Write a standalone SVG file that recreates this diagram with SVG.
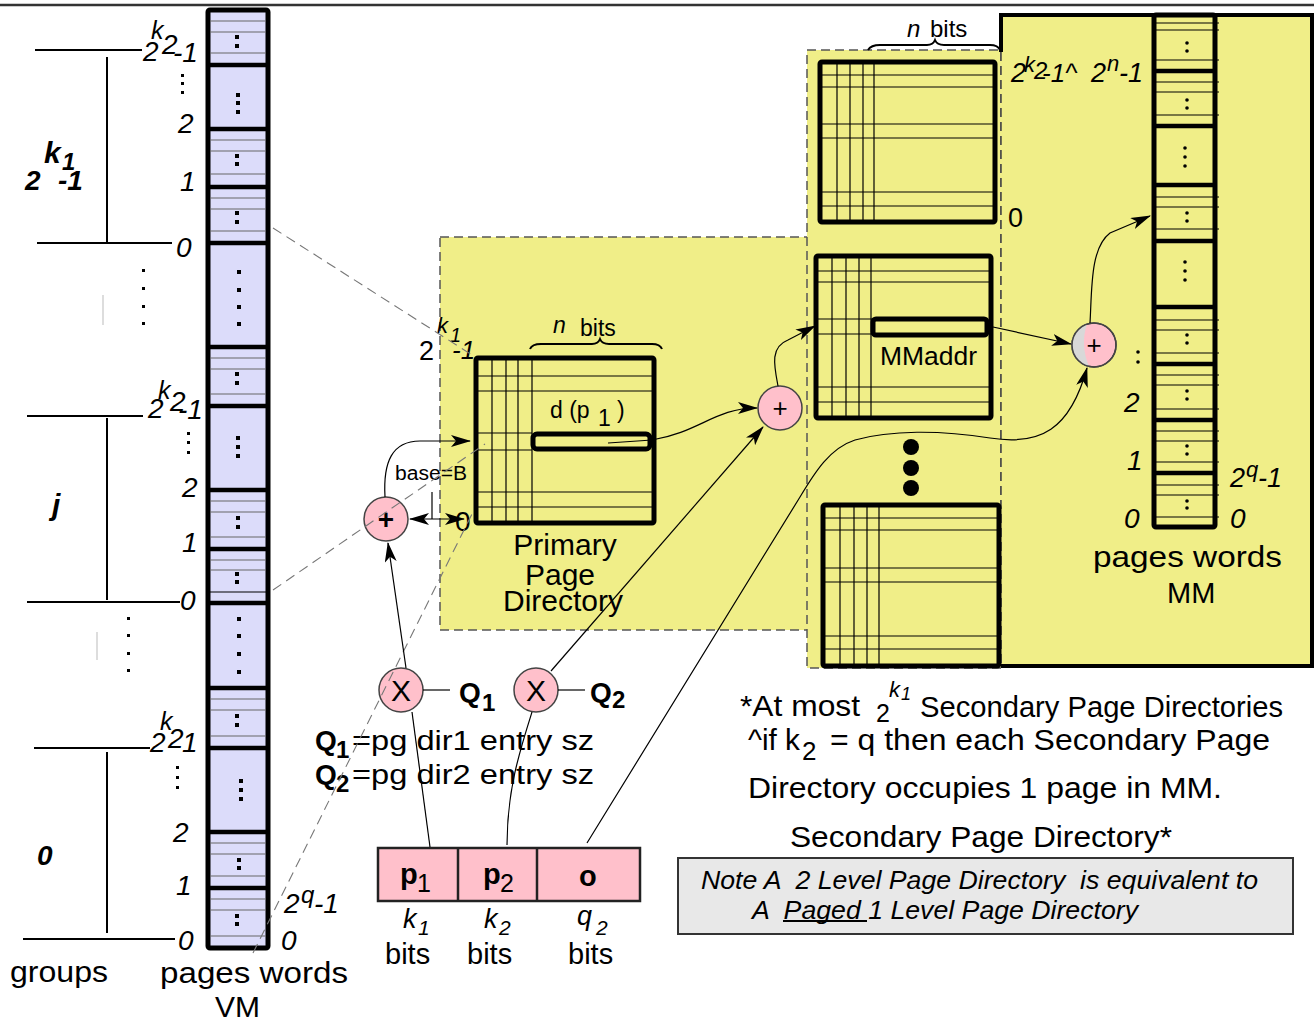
<svg xmlns="http://www.w3.org/2000/svg" width="1314" height="1024" viewBox="0 0 1314 1024">
<defs>
<marker id="ah" viewBox="0 0 20 12" refX="19" refY="6" markerWidth="20" markerHeight="12" markerUnits="userSpaceOnUse" orient="auto-start-reverse"><path d="M0,0 L20,6 L0,12 L5,6 z" fill="#000"/></marker>
</defs>
<style>
text{font-family:"Liberation Sans",Arial,sans-serif;fill:#000}
.it{font-style:italic}
.b{font-weight:bold}
.thk{stroke:#000;stroke-width:4.5}
.thn{stroke:#666;stroke-width:1.2}
.tl{stroke:#000;stroke-width:1.2}
.box{fill:none;stroke:#000;stroke-width:5}
.yel{fill:#f0ee88;stroke:#555;stroke-width:1.5;stroke-dasharray:9 5}
.dot{fill:#000}
.circ{fill:#ffc0cb;stroke:#444;stroke-width:1.5}
.con{fill:none;stroke:#000;stroke-width:1.2}
.dsh{fill:none;stroke:#777;stroke-width:1.1;stroke-dasharray:10 6}
.grp{stroke:#000;stroke-width:2}
.lbl{font-size:28px;font-style:italic}
</style>
<rect width="1314" height="1024" fill="#fff"/>
<line x1="0" y1="5" x2="1314" y2="5" stroke="#333" stroke-width="2.5"/>

<!-- Regions -->
<g id="ppd-region"><rect class="yel" x="440" y="237" width="368" height="393"/></g>
<g id="spd-region"><rect class="yel" x="807" y="50" width="194" height="618"/></g>
<g id="mm-region">
<rect x="1001" y="15" width="311" height="651" fill="#f0ee88"/>
<path d="M1001 52 L1001 15 L1312 15 L1312 666 L1001 666" fill="none" stroke="#000" stroke-width="4"/>
<line x1="1001" y1="52" x2="1001" y2="666" stroke="#444" stroke-width="1.5" stroke-dasharray="9 5"/>
</g>

<!-- Groups (left) -->
<g id="groups">
<line class="grp" x1="35" y1="50" x2="142" y2="50"/>
<line class="grp" x1="107" y1="57" x2="107" y2="242"/>
<line class="grp" x1="37" y1="243" x2="172" y2="243"/>
<line class="grp" x1="27" y1="416" x2="143" y2="416"/>
<line class="grp" x1="107" y1="418" x2="107" y2="600"/>
<line class="grp" x1="27" y1="602" x2="180" y2="602"/>
<line class="grp" x1="34" y1="748" x2="150" y2="748"/>
<line class="grp" x1="107" y1="752" x2="107" y2="933"/>
<line class="grp" x1="23" y1="939" x2="175" y2="939"/>
<text class="b it" x="25" y="190" font-size="28">2</text>
<text class="b it" x="44" y="163" font-size="30">k</text>
<text class="b it" x="62" y="170" font-size="24">1</text>
<text class="b it" x="58" y="190" font-size="28">-1</text>
<text class="b it" x="52" y="515" font-size="30">j</text>
<text class="b it" x="37" y="865" font-size="28">0</text>
<g class="dot">
<rect x="142" y="269" width="3" height="3"/><rect x="142" y="287" width="3" height="3"/><rect x="142" y="305" width="3" height="3"/><rect x="142" y="322" width="3" height="3"/>
<rect x="127" y="617" width="3" height="3"/><rect x="127" y="634" width="3" height="3"/><rect x="127" y="652" width="3" height="3"/><rect x="127" y="669" width="3" height="3"/>
</g>
<line x1="103" y1="295" x2="103" y2="325" stroke="#bbb" stroke-width="1"/>
<line x1="97" y1="632" x2="97" y2="660" stroke="#bbb" stroke-width="1"/>
<text x="10" y="982" font-size="29" textLength="98" lengthAdjust="spacingAndGlyphs">groups</text>
</g>

<!-- VM column -->
<g id="vm">
<rect x="208" y="10" width="60" height="938" fill="#dcdcfa" stroke="#000" stroke-width="5" rx="2"/>
<g class="thk">
<line x1="208" y1="65" x2="268" y2="65"/><line x1="208" y1="129" x2="268" y2="129"/><line x1="208" y1="187" x2="268" y2="187"/><line x1="208" y1="243" x2="268" y2="243"/>
<line x1="208" y1="347" x2="268" y2="347"/><line x1="208" y1="406" x2="268" y2="406"/><line x1="208" y1="490" x2="268" y2="490"/><line x1="208" y1="549" x2="268" y2="549"/><line x1="208" y1="603" x2="268" y2="603"/>
<line x1="208" y1="688" x2="268" y2="688"/><line x1="208" y1="748" x2="268" y2="748"/><line x1="208" y1="832" x2="268" y2="832"/><line x1="208" y1="888" x2="268" y2="888"/>
</g>
<g class="thn">
<line x1="210" y1="21" x2="266" y2="21"/><line x1="210" y1="32" x2="266" y2="32"/><line x1="210" y1="53" x2="266" y2="53"/>
<line x1="210" y1="140" x2="266" y2="140"/><line x1="210" y1="151" x2="266" y2="151"/><line x1="210" y1="174" x2="266" y2="174"/>
<line x1="210" y1="198" x2="266" y2="198"/><line x1="210" y1="209" x2="266" y2="209"/><line x1="210" y1="231" x2="266" y2="231"/>
<line x1="210" y1="358" x2="266" y2="358"/><line x1="210" y1="369" x2="266" y2="369"/><line x1="210" y1="394" x2="266" y2="394"/>
<line x1="210" y1="501" x2="266" y2="501"/><line x1="210" y1="512" x2="266" y2="512"/><line x1="210" y1="537" x2="266" y2="537"/>
<line x1="210" y1="560" x2="266" y2="560"/><line x1="210" y1="570" x2="266" y2="570"/><line x1="210" y1="592" x2="266" y2="592" stroke="#000"/>
<line x1="210" y1="699" x2="266" y2="699"/><line x1="210" y1="710" x2="266" y2="710"/><line x1="210" y1="736" x2="266" y2="736"/>
<line x1="210" y1="843" x2="266" y2="843"/><line x1="210" y1="854" x2="266" y2="854"/><line x1="210" y1="876" x2="266" y2="876"/>
<line x1="210" y1="899" x2="266" y2="899"/><line x1="210" y1="910" x2="266" y2="910"/><line x1="210" y1="936" x2="266" y2="936"/>
</g>
<g class="dot">
<rect x="235" y="35" width="4" height="4"/><rect x="235" y="44" width="4" height="4"/>
<rect x="236" y="93" width="4" height="4"/><rect x="236" y="101" width="4" height="4"/><rect x="236" y="110" width="4" height="4"/>
<rect x="235" y="154" width="4" height="4"/><rect x="235" y="162" width="4" height="4"/>
<rect x="235" y="211" width="4" height="4"/><rect x="235" y="220" width="4" height="4"/>
<rect x="237" y="270" width="4" height="4"/><rect x="237" y="288" width="4" height="4"/><rect x="237" y="305" width="4" height="4"/><rect x="237" y="322" width="4" height="4"/>
<rect x="235" y="372" width="4" height="4"/><rect x="235" y="381" width="4" height="4"/>
<rect x="236" y="436" width="4" height="4"/><rect x="236" y="445" width="4" height="4"/><rect x="236" y="454" width="4" height="4"/>
<rect x="236" y="516" width="4" height="4"/><rect x="236" y="525" width="4" height="4"/>
<rect x="235" y="572" width="4" height="4"/><rect x="235" y="580" width="4" height="4"/>
<rect x="237" y="617" width="4" height="4"/><rect x="237" y="634" width="4" height="4"/><rect x="237" y="652" width="4" height="4"/><rect x="237" y="670" width="4" height="4"/>
<rect x="235" y="714" width="4" height="4"/><rect x="235" y="723" width="4" height="4"/>
<rect x="239" y="779" width="4" height="4"/><rect x="239" y="788" width="4" height="4"/><rect x="239" y="797" width="4" height="4"/>
<rect x="237" y="858" width="4" height="4"/><rect x="237" y="866" width="4" height="4"/>
<rect x="235" y="914" width="4" height="4"/><rect x="235" y="922" width="4" height="4"/>
</g>
<!-- labels top group -->
<text class="it" x="143" y="61" font-size="28">2</text>
<text class="it" x="151" y="39" font-size="25">k</text>
<text class="it" x="162" y="54" font-size="28">2</text>
<text class="it" x="173" y="62" font-size="28">-1</text>
<g class="dot"><rect x="181" y="74" width="3" height="3"/><rect x="181" y="82" width="3" height="3"/><rect x="181" y="91" width="3" height="3"/></g>
<text class="lbl" x="178" y="133">2</text>
<text class="lbl" x="180" y="191">1</text>
<text class="lbl" x="176" y="257">0</text>
<!-- group j -->
<text class="it" x="148" y="418" font-size="28">2</text>
<text class="it" x="158" y="399" font-size="25">k</text>
<text class="it" x="170" y="411" font-size="28">2</text>
<text class="it" x="178" y="419" font-size="28">-1</text>
<g class="dot"><rect x="187" y="432" width="3" height="3"/><rect x="187" y="441" width="3" height="3"/><rect x="187" y="451" width="3" height="3"/></g>
<text class="lbl" x="182" y="497">2</text>
<text class="lbl" x="182" y="552">1</text>
<text class="lbl" x="180" y="610">0</text>
<!-- group 0 -->
<text class="it" x="150" y="752" font-size="28">2</text>
<text class="it" x="160" y="730" font-size="25">k</text>
<text class="it" x="168" y="748" font-size="28">2</text>
<text class="it" x="182" y="752" font-size="28">1</text>
<g class="dot"><rect x="176" y="766" width="3" height="3"/><rect x="176" y="776" width="3" height="3"/><rect x="176" y="786" width="3" height="3"/></g>
<text class="lbl" x="173" y="842">2</text>
<text class="lbl" x="176" y="895">1</text>
<text class="lbl" x="178" y="950">0</text>
<text class="it" x="284" y="913" font-size="28">2</text>
<text class="it" x="301" y="903" font-size="24">q</text>
<text class="it" x="314" y="913" font-size="28">-1</text>
<text class="lbl" x="281" y="950">0</text>
<text x="160" y="983" font-size="29" textLength="188" lengthAdjust="spacingAndGlyphs">pages  words</text>
<text x="215" y="1017" font-size="30">VM</text>
</g>

<!-- Primary Page Directory -->
<g id="ppd">
<rect x="476" y="358" width="178" height="165" fill="#f0ee88"/>
<g class="tl">
<line x1="492" y1="358" x2="492" y2="523"/><line x1="506" y1="358" x2="506" y2="523"/><line x1="518" y1="358" x2="518" y2="523"/><line x1="532" y1="358" x2="532" y2="523"/>
<line x1="476" y1="376" x2="654" y2="376"/><line x1="476" y1="391" x2="654" y2="391"/>
<line x1="476" y1="433" x2="532" y2="433"/><line x1="476" y1="450" x2="532" y2="450"/>
<line x1="476" y1="492" x2="654" y2="492"/><line x1="476" y1="507" x2="654" y2="507"/>
</g>
<rect class="box" x="476" y="358" width="178" height="165" rx="2"/>
<rect x="533" y="434" width="117" height="15" rx="4" fill="#f0ee88" stroke="#000" stroke-width="5"/>
<text x="550" y="418" font-size="23">d (p</text>
<text x="598" y="426" font-size="23">1</text>
<text x="617" y="418" font-size="23">)</text>
<text class="it" x="553" y="333" font-size="23">n</text>
<text x="580" y="336" font-size="23">bits</text>
<path d="M530 349 Q532 344 541 344 L592 344 Q598 344 600 339 Q602 344 609 344 L652 344 Q660 344 662 349" fill="none" stroke="#000" stroke-width="2"/>
<text x="419" y="360" font-size="27">2</text>
<text class="it" x="437" y="333" font-size="22">k</text>
<text class="it" x="450" y="342" font-size="20">1</text>
<text class="it" x="452" y="359" font-size="26">-1</text>
<text x="395" y="480" font-size="20" textLength="72" lengthAdjust="spacingAndGlyphs">base=B</text>
<text x="455" y="531" font-size="28">0</text>
<text x="565" y="555" font-size="30" text-anchor="middle">Primary</text>
<text x="560" y="585" font-size="30" text-anchor="middle">Page</text>
<text x="563" y="611" font-size="30" text-anchor="middle">Directory</text>
</g>

<!-- Secondary tables -->
<g id="spd-a">
<g class="tl">
<line x1="837" y1="62" x2="837" y2="222"/><line x1="850" y1="62" x2="850" y2="222"/><line x1="863" y1="62" x2="863" y2="222"/><line x1="874" y1="62" x2="874" y2="222"/>
<line x1="820" y1="75" x2="995" y2="75"/><line x1="820" y1="87" x2="995" y2="87"/><line x1="820" y1="124" x2="995" y2="124"/><line x1="820" y1="138" x2="995" y2="138"/><line x1="820" y1="192" x2="995" y2="192"/><line x1="820" y1="206" x2="995" y2="206"/>
</g>
<rect class="box" x="820" y="62" width="175" height="160" rx="2"/>
</g>
<g id="spd-b">
<g class="tl">
<line x1="832" y1="256" x2="832" y2="418"/><line x1="846" y1="256" x2="846" y2="418"/><line x1="859" y1="256" x2="859" y2="418"/><line x1="871" y1="256" x2="871" y2="418"/>
<line x1="816" y1="271" x2="991" y2="271"/><line x1="816" y1="282" x2="991" y2="282"/>
<line x1="816" y1="319" x2="872" y2="319"/><line x1="816" y1="334" x2="872" y2="334"/>
<line x1="816" y1="387" x2="991" y2="387"/><line x1="816" y1="402" x2="991" y2="402"/>
</g>
<rect class="box" x="816" y="256" width="175" height="162" rx="2"/>
<rect x="873" y="319" width="114" height="16" rx="3" fill="#f0ee88" stroke="#000" stroke-width="5"/>
<text x="880" y="365" font-size="26" textLength="97" lengthAdjust="spacingAndGlyphs">MMaddr</text>
</g>
<g id="spd-dots" class="dot">
<circle cx="911" cy="447" r="8"/><circle cx="911" cy="468" r="8"/><circle cx="911" cy="488" r="8"/>
</g>
<g id="spd-c">
<g class="tl">
<line x1="840" y1="505" x2="840" y2="666"/><line x1="854" y1="505" x2="854" y2="666"/><line x1="867" y1="505" x2="867" y2="666"/><line x1="879" y1="505" x2="879" y2="666"/>
<line x1="823" y1="518" x2="999" y2="518"/><line x1="823" y1="530" x2="999" y2="530"/><line x1="823" y1="568" x2="999" y2="568"/><line x1="823" y1="582" x2="999" y2="582"/><line x1="823" y1="636" x2="999" y2="636"/><line x1="823" y1="649" x2="999" y2="649"/>
</g>
<rect class="box" x="823" y="505" width="176" height="161" rx="2"/>
</g>
<g id="spd-labels">
<text class="it" x="907" y="37" font-size="24">n</text>
<text x="930" y="37" font-size="24">bits</text>
<path d="M868 50 Q871 45 880 45 L927 45 Q933 45 935 40 Q937 45 944 45 L990 45 Q998 45 1000 50" fill="none" stroke="#000" stroke-width="2"/>
<text x="1008" y="227" font-size="27">0</text>
<text class="it" x="1011" y="82" font-size="27">2</text>
<text class="it" x="1024" y="72" font-size="22">k</text>
<text class="it" x="1034" y="79" font-size="24">2</text>
<text class="it" x="1042" y="82" font-size="26">-1^</text>
<text class="it" x="1091" y="82" font-size="27">2</text>
<text class="it" x="1107" y="71" font-size="22">n</text>
<text class="it" x="1119" y="82" font-size="27">-1</text>
</g>

<!-- MM column -->
<g id="mm">
<g class="thk">
<line x1="1154" y1="71" x2="1215" y2="71"/><line x1="1154" y1="126" x2="1215" y2="126"/><line x1="1154" y1="185" x2="1215" y2="185"/><line x1="1154" y1="241" x2="1215" y2="241"/>
<line x1="1154" y1="307" x2="1215" y2="307"/><line x1="1154" y1="364" x2="1215" y2="364"/><line x1="1154" y1="420" x2="1215" y2="420"/><line x1="1154" y1="473" x2="1215" y2="473"/>
</g>
<g class="tl">
<line x1="1154" y1="23" x2="1219" y2="23"/><line x1="1154" y1="30" x2="1219" y2="30"/><line x1="1154" y1="60" x2="1219" y2="60"/>
<line x1="1154" y1="82" x2="1219" y2="82"/><line x1="1154" y1="92" x2="1219" y2="92"/><line x1="1154" y1="115" x2="1219" y2="115"/>
<line x1="1154" y1="197" x2="1219" y2="197"/><line x1="1154" y1="207" x2="1219" y2="207"/><line x1="1154" y1="229" x2="1219" y2="229"/>
<line x1="1154" y1="320" x2="1219" y2="320"/><line x1="1154" y1="330" x2="1219" y2="330"/><line x1="1154" y1="353" x2="1219" y2="353"/>
<line x1="1154" y1="375" x2="1219" y2="375"/><line x1="1154" y1="385" x2="1219" y2="385"/><line x1="1154" y1="409" x2="1219" y2="409"/>
<line x1="1154" y1="431" x2="1219" y2="431"/><line x1="1154" y1="441" x2="1219" y2="441"/><line x1="1154" y1="462" x2="1219" y2="462"/>
<line x1="1154" y1="485" x2="1219" y2="485"/><line x1="1154" y1="495" x2="1219" y2="495"/><line x1="1154" y1="517" x2="1219" y2="517"/>
</g>
<rect class="box" x="1154" y="15" width="61" height="512" rx="2"/>
<g class="dot">
<circle cx="1187" cy="43" r="1.8"/><circle cx="1187" cy="51" r="1.8"/>
<circle cx="1187" cy="100" r="1.8"/><circle cx="1187" cy="108" r="1.8"/>
<circle cx="1185" cy="148" r="1.8"/><circle cx="1185" cy="157" r="1.8"/><circle cx="1185" cy="166" r="1.8"/>
<circle cx="1187" cy="213" r="1.8"/><circle cx="1187" cy="221" r="1.8"/>
<circle cx="1185" cy="262" r="1.8"/><circle cx="1185" cy="271" r="1.8"/><circle cx="1185" cy="280" r="1.8"/>
<circle cx="1187" cy="335" r="1.8"/><circle cx="1187" cy="343" r="1.8"/>
<circle cx="1187" cy="391" r="1.8"/><circle cx="1187" cy="399" r="1.8"/>
<circle cx="1187" cy="446" r="1.8"/><circle cx="1187" cy="454" r="1.8"/>
<circle cx="1187" cy="501" r="1.8"/><circle cx="1187" cy="508" r="1.8"/>
<circle cx="1138" cy="352" r="1.8"/><circle cx="1138" cy="362" r="1.8"/>
</g>
<text class="lbl" x="1124" y="412">2</text>
<text class="lbl" x="1127" y="470">1</text>
<text class="lbl" x="1124" y="528">0</text>
<text class="it" x="1230" y="487" font-size="27">2</text>
<text class="it" x="1246" y="477" font-size="22">q</text>
<text class="it" x="1258" y="487" font-size="27">-1</text>
<text class="lbl" x="1230" y="528">0</text>
<text x="1093" y="567" font-size="29" textLength="189" lengthAdjust="spacingAndGlyphs">pages  words</text>
<text x="1167" y="603" font-size="29">MM</text>
</g>

<!-- Operators -->
<g id="plus1"><circle class="circ" cx="386" cy="519" r="22"/><text class="b" x="386" y="529" font-size="28" text-anchor="middle">+</text></g>
<g id="plus2"><circle class="circ" cx="780" cy="408" r="22"/><text x="780" y="417" font-size="26" text-anchor="middle">+</text></g>
<g id="plus3"><circle class="circ" cx="1094" cy="345" r="22"/><path d="M1087 324 A22 22 0 0 0 1089 366.5 Q1080 345 1087 324 Z" fill="#d8d8d8"/><circle cx="1094" cy="345" r="22" fill="none" stroke="#444" stroke-width="1.5"/><text x="1094" y="354" font-size="26" text-anchor="middle">+</text></g>
<g id="times1"><circle class="circ" cx="401" cy="690" r="22"/><text x="401" y="701" font-size="30" text-anchor="middle">X</text></g>
<g id="times2"><circle class="circ" cx="536" cy="690" r="22"/><text x="536" y="701" font-size="30" text-anchor="middle">X</text></g>
<g id="q-labels">
<text class="b" x="459" y="702" font-size="28">Q</text><text class="b" x="482" y="711" font-size="24">1</text>
<text class="b" x="590" y="702" font-size="28">Q</text><text class="b" x="612" y="708" font-size="24">2</text>
<text class="b" x="315" y="750" font-size="28">Q</text><text class="b" x="336" y="758" font-size="24">1</text>
<text x="352" y="750" font-size="27" textLength="242" lengthAdjust="spacingAndGlyphs">=pg dir1 entry sz</text>
<text class="b" x="315" y="784" font-size="28">Q</text><text class="b" x="336" y="792" font-size="24">2</text>
<text x="352" y="784" font-size="27" textLength="242" lengthAdjust="spacingAndGlyphs">=pg dir2 entry sz</text>
</g>

<!-- Address -->
<g id="address">
<rect x="378" y="848" width="262" height="53" fill="#ffc0cb" stroke="#222" stroke-width="2.5"/>
<line x1="458" y1="848" x2="458" y2="901" stroke="#222" stroke-width="2.5"/>
<line x1="537" y1="848" x2="537" y2="901" stroke="#222" stroke-width="2.5"/>
<text class="b" x="400" y="884" font-size="29">p</text><text x="417" y="892" font-size="25">1</text>
<text class="b" x="483" y="884" font-size="29">p</text><text x="500" y="892" font-size="25">2</text>
<text class="b" x="579" y="886" font-size="29">o</text>
<text class="it" x="403" y="928" font-size="27">k</text><text class="it" x="418" y="935" font-size="21">1</text>
<text x="385" y="964" font-size="29">bits</text>
<text class="it" x="484" y="928" font-size="27">k</text><text class="it" x="499" y="935" font-size="21">2</text>
<text x="467" y="964" font-size="29">bits</text>
<text class="it" x="577" y="925" font-size="27">q</text><text class="it" x="596" y="935" font-size="21">2</text>
<text x="568" y="964" font-size="29">bits</text>
</g>

<!-- Notes -->
<g id="notes">
<text x="740" y="716" font-size="30" textLength="120" lengthAdjust="spacingAndGlyphs">*At most</text>
<text x="876" y="722" font-size="25">2</text>
<text class="it" x="889" y="697" font-size="22">k</text><text class="it" x="901" y="700" font-size="18">1</text>
<text x="920" y="717" font-size="30" textLength="363" lengthAdjust="spacingAndGlyphs">Secondary Page Directories</text>
<text x="748" y="750" font-size="30" textLength="52" lengthAdjust="spacingAndGlyphs">^if k</text>
<text x="802" y="760" font-size="26">2</text>
<text x="830" y="750" font-size="30" textLength="440" lengthAdjust="spacingAndGlyphs">= q then each Secondary Page</text>
<text x="748" y="798" font-size="30" textLength="474" lengthAdjust="spacingAndGlyphs">Directory occupies 1 page in MM.</text>
<text x="790" y="847" font-size="30" textLength="382" lengthAdjust="spacingAndGlyphs">Secondary Page Directory*</text>
</g>
<g id="note-box">
<rect x="678" y="858" width="615" height="76" fill="#e8e8e8" stroke="#333" stroke-width="2"/>
<text class="it" x="701" y="889" font-size="25" xml:space="preserve" textLength="557" lengthAdjust="spacingAndGlyphs">Note A  2 Level Page Directory  is equivalent to</text>
<text class="it" x="752" y="919" font-size="25" xml:space="preserve" textLength="386" lengthAdjust="spacingAndGlyphs">A  Paged 1 Level Page Directory</text>
<line x1="783" y1="921" x2="867" y2="921" stroke="#000" stroke-width="2"/>
</g>

<!-- Connectors -->
<g id="connectors">
<path class="dsh" d="M273 228 L472 355"/>
<path class="dsh" d="M273 590 L485 444"/>
<path class="dsh" d="M253 953 L473 512"/>
<path class="con" d="M385 497 C383 462 392 441 420 441 L470 441" marker-end="url(#ah)"/>
<path class="con" d="M410 519 L464 519" marker-start="url(#ah)" marker-end="url(#ah)"/>
<line class="con" x1="432" y1="492" x2="432" y2="519"/>
<path class="con" d="M430 847 L412 712"/>
<path class="con" d="M406 668 L388 543" marker-end="url(#ah)"/>
<line class="con" x1="423" y1="690" x2="450" y2="690"/>
<line class="con" x1="558" y1="690" x2="585" y2="690"/>
<path class="con" d="M507 845 C507 790 520 750 532 712"/>
<path class="con" d="M551 671 L763 427" marker-end="url(#ah)"/>
<path class="con" d="M608 443 L652 440 C700 432 715 408 757 408" marker-end="url(#ah)"/>
<path class="con" d="M778 386 C774 365 770 347 788 340 L815 326" marker-end="url(#ah)"/>
<path class="con" d="M587 843 L800 497 C815 472 830 448 855 440 C890 430 940 430 990 438 C1040 446 1070 430 1087 368" marker-end="url(#ah)"/>
<path class="con" d="M993 327 L1071 344" marker-end="url(#ah)"/>
<path class="con" d="M1090 323 C1092 290 1090 248 1110 233 L1150 216" marker-end="url(#ah)"/>
</g>
</svg>
